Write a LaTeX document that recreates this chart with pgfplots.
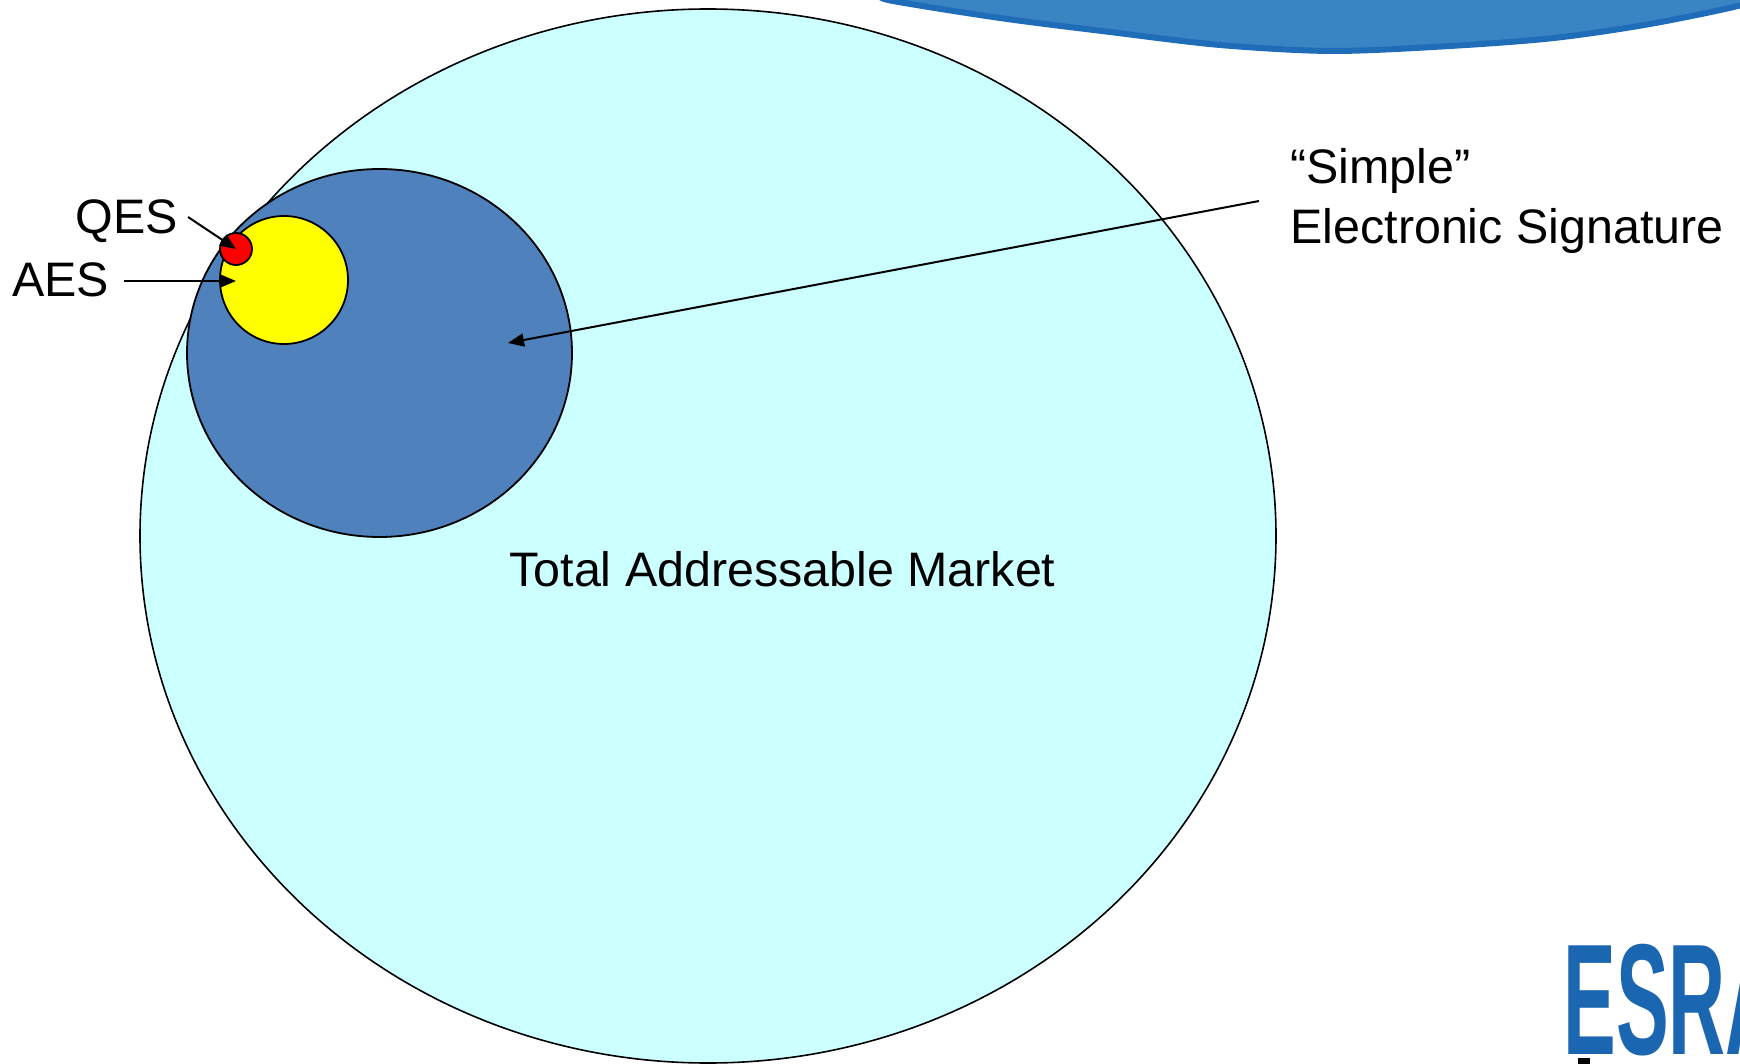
\documentclass[border=0pt]{standalone}
\usepackage{fontspec}
\setmainfont{Liberation Sans}
\usepackage{pgfplots}
\pgfplotsset{compat=1.18}
\usetikzlibrary{arrows.meta}
\definecolor{tam}{HTML}{CCFFFF}
\definecolor{ses}{HTML}{4F81BD}
\definecolor{aes}{HTML}{FFFF00}
\definecolor{qes}{HTML}{FF0000}
\definecolor{deco}{HTML}{3A84C4}
\definecolor{decoedge}{HTML}{1F6DB8}
\definecolor{esra}{HTML}{1B66B1}
\begin{document}
\begin{tikzpicture}
\begin{axis}[name=ax, scale only axis, width=870pt, height=532pt,
  xmin=0, xmax=1740, ymin=0, ymax=1064, y dir=reverse, hide axis, clip=false]
% top-right decoration
\addplot[draw=decoedge, line width=3pt, fill=deco, smooth]
  coordinates {(886,-6) (888,0) (1000,18) (1110,32) (1220,45) (1332,51) (1450,46) (1554,38) (1650,24) (1745,4) (1745,-6)} -- cycle;
% circles (centre x, centre y, x radius, y radius)
\draw[fill=tam, draw=black, line width=0.8pt] (axis cs:708,536) ellipse [x radius=568, y radius=527];
\draw[fill=ses, draw=black, line width=0.9pt] (axis cs:379.5,353) ellipse [x radius=192.5, y radius=184];
\draw[fill=aes, draw=black, line width=0.9pt] (axis cs:284,280) ellipse [x radius=64, y radius=64];
\draw[fill=qes, draw=black, line width=0.9pt] (axis cs:236,249) ellipse [x radius=16, y radius=16];
% arrows
\addplot[black, line width=1pt, -{Triangle[length=8pt,width=6.5pt]}] coordinates {(1259,201) (508,343)};
\addplot[black, line width=1pt, -{Triangle[length=8pt,width=6.5pt]}] coordinates {(188,217) (236,249)};
\addplot[black, line width=1pt, -{Triangle[length=8pt,width=6.5pt]}] coordinates {(124,281) (236,281)};
% labels
\node[anchor=base west, inner sep=0pt, font=\fontsize{24.2}{28}\selectfont] at (axis cs:75,234) {QES};
\node[anchor=base west, inner sep=0pt, font=\fontsize{24.2}{28}\selectfont] at (axis cs:12,297) {AES};
\node[anchor=base west, inner sep=0pt, font=\fontsize{24.2}{28}\selectfont] at (axis cs:509,586) {Total Addressable Market};
\node[anchor=base west, inner sep=0pt, font=\fontsize{24.2}{28}\selectfont] at (axis cs:1290,184) {“Simple”};
\node[anchor=base west, inner sep=0pt, font=\fontsize{24.2}{28}\selectfont] at (axis cs:1290,244) {Electronic Signature};
% logo
\node[anchor=base west, inner sep=0pt, text=esra, font=\fontsize{79}{80}\selectfont\bfseries] at (axis cs:1563,1054) {\scalebox{0.5}[1]{ESRA}};
\fill[black] (axis cs:1578,1058) rectangle (axis cs:1590,1066);
\end{axis}
\pgfresetboundingbox
\path[use as bounding box] (ax.south west) rectangle (ax.north east);
\end{tikzpicture}
\end{document}
